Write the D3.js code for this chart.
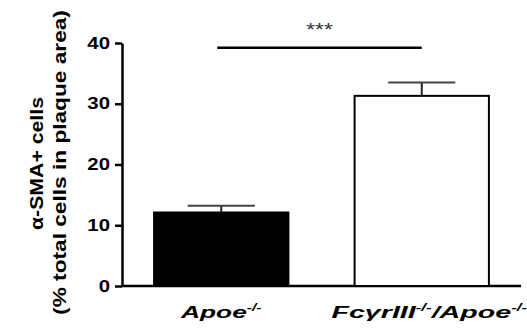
<!DOCTYPE html>
<html>
<head>
<meta charset="utf-8">
<script src="https://cdn.jsdelivr.net/npm/d3@7"></script>
<style>
  body { margin: 0; background: #fff; }
  text { font-family: "Liberation Sans", Arial, sans-serif; }
</style>
</head>
<body>
<svg id="chart"></svg>
<script>
// data
const groups = ["Apoe", "FcγrIII/Apoe"];
const means = [12.1, 31.3];
const sems = [1.1, 2.2];
const fills = ["#000", "#fff"];
const yTicks = [0, 10, 20, 30, 40];

const size = { w: 527, h: 333 };
const margin = { t: 43, r: 6, b: 47, l: 122 };

const svg = d3.select("svg#chart").attr("width", size.w).attr("height", size.h);
const g = svg.append("g").attr("transform", `translate(${margin.l}, ${margin.t})`);
const h = size.h - margin.t - margin.b;

const x = d3.scaleBand().domain(groups).range([0, 399]).paddingInner(0.33).paddingOuter(0.16);
const y = d3.scaleLinear().domain([0, 40]).range([h, 0]);

// stretch a text horizontally (in its own frame) to a target width
function stretch(sel, target, tx, ty, rot) {
  const w = sel.node().getBBox().width;
  sel.attr("transform", `translate(${tx}, ${ty}) rotate(${rot || 0}) scale(${target / w}, 1)`);
}

// y axis
const tickScale = 1.25;
const yAxis = g.append("g")
  .call(d3.axisLeft(y).tickValues(yTicks).tickSize(7).tickSizeOuter(0).tickPadding(5));
yAxis.select(".domain").attr("stroke-width", 2.5);
yAxis.selectAll(".tick line").attr("stroke-width", 2.5);
yAxis.selectAll(".tick text")
  .attr("font-size", 16.3).attr("font-weight", "bold").attr("fill", "#000")
  .attr("font-family", "Liberation Sans, Arial, sans-serif")
  .attr("x", -12 / tickScale)
  .attr("transform", `scale(${tickScale}, 1)`);

// x axis baseline
g.append("line").attr("x1", 0).attr("x2", 399).attr("y1", h).attr("y2", h)
  .attr("stroke", "#000").attr("stroke-width", 2.5);

// bars
g.selectAll("rect.bar").data(groups).join("rect")
  .attr("class", "bar")
  .attr("x", d => x(d))
  .attr("y", (d, i) => y(means[i]))
  .attr("width", x.bandwidth())
  .attr("height", (d, i) => h - y(means[i]))
  .attr("fill", (d, i) => fills[i])
  .attr("stroke", "#000").attr("stroke-width", 2);

// error bars
groups.forEach((d, i) => {
  const cx = x(d) + x.bandwidth() / 2;
  const cw = x.bandwidth() / 4;
  g.append("line").attr("x1", cx).attr("x2", cx)
    .attr("y1", y(means[i])).attr("y2", y(means[i] + sems[i]))
    .attr("stroke", "#222").attr("stroke-width", 2);
  g.append("line").attr("x1", cx - cw).attr("x2", cx + cw)
    .attr("y1", y(means[i] + sems[i])).attr("y2", y(means[i] + sems[i]))
    .attr("stroke", "#444").attr("stroke-width", 2);
});

// significance bar
const c0 = x(groups[0]) + x.bandwidth() / 2 - 4;
const c1 = x(groups[1]) + x.bandwidth() / 2;
g.append("line").attr("x1", c0).attr("x2", c1).attr("y1", y(39.2)).attr("y2", y(39.2))
  .attr("stroke", "#000").attr("stroke-width", 2.5);
const stars = g.append("text").attr("text-anchor", "middle")
  .attr("font-size", 19).attr("fill", "#333").text("***");
stretch(stars, 27, (c0 + c1) / 2, y(39.2) - 12);

// x labels
function groupLabel(parts, target, cx) {
  const t = g.append("text").attr("text-anchor", "middle")
    .attr("font-size", 17).attr("font-weight", "bold").attr("font-style", "italic");
  parts.forEach((p, k) => {
    const s = t.append("tspan").text(p);
    if (k % 2 === 1) s.attr("font-size", 10).attr("dy", -7);
    else if (k > 0) s.attr("dy", 7);
  });
  stretch(t, target, cx, h + 32);
}
groupLabel(["Apoe", "-/-"], 83, x(groups[0]) + x.bandwidth() / 2);
groupLabel(["FcγrIII", "-/-", "/Apoe", "-/-"], 197, x(groups[1]) + x.bandwidth() / 2 + 7.5);

// y title
const t1 = svg.append("text").attr("text-anchor", "middle")
  .attr("font-size", 19).attr("font-weight", "bold").text("α-SMA+ cells");
stretch(t1, 133, 43, 163.5, -90);
const t2 = svg.append("text").attr("text-anchor", "middle")
  .attr("font-size", 19).attr("font-weight", "bold").text("(% total cells in plaque area)");
stretch(t2, 305, 66, 162.5, -90);
</script>
</body>
</html>
